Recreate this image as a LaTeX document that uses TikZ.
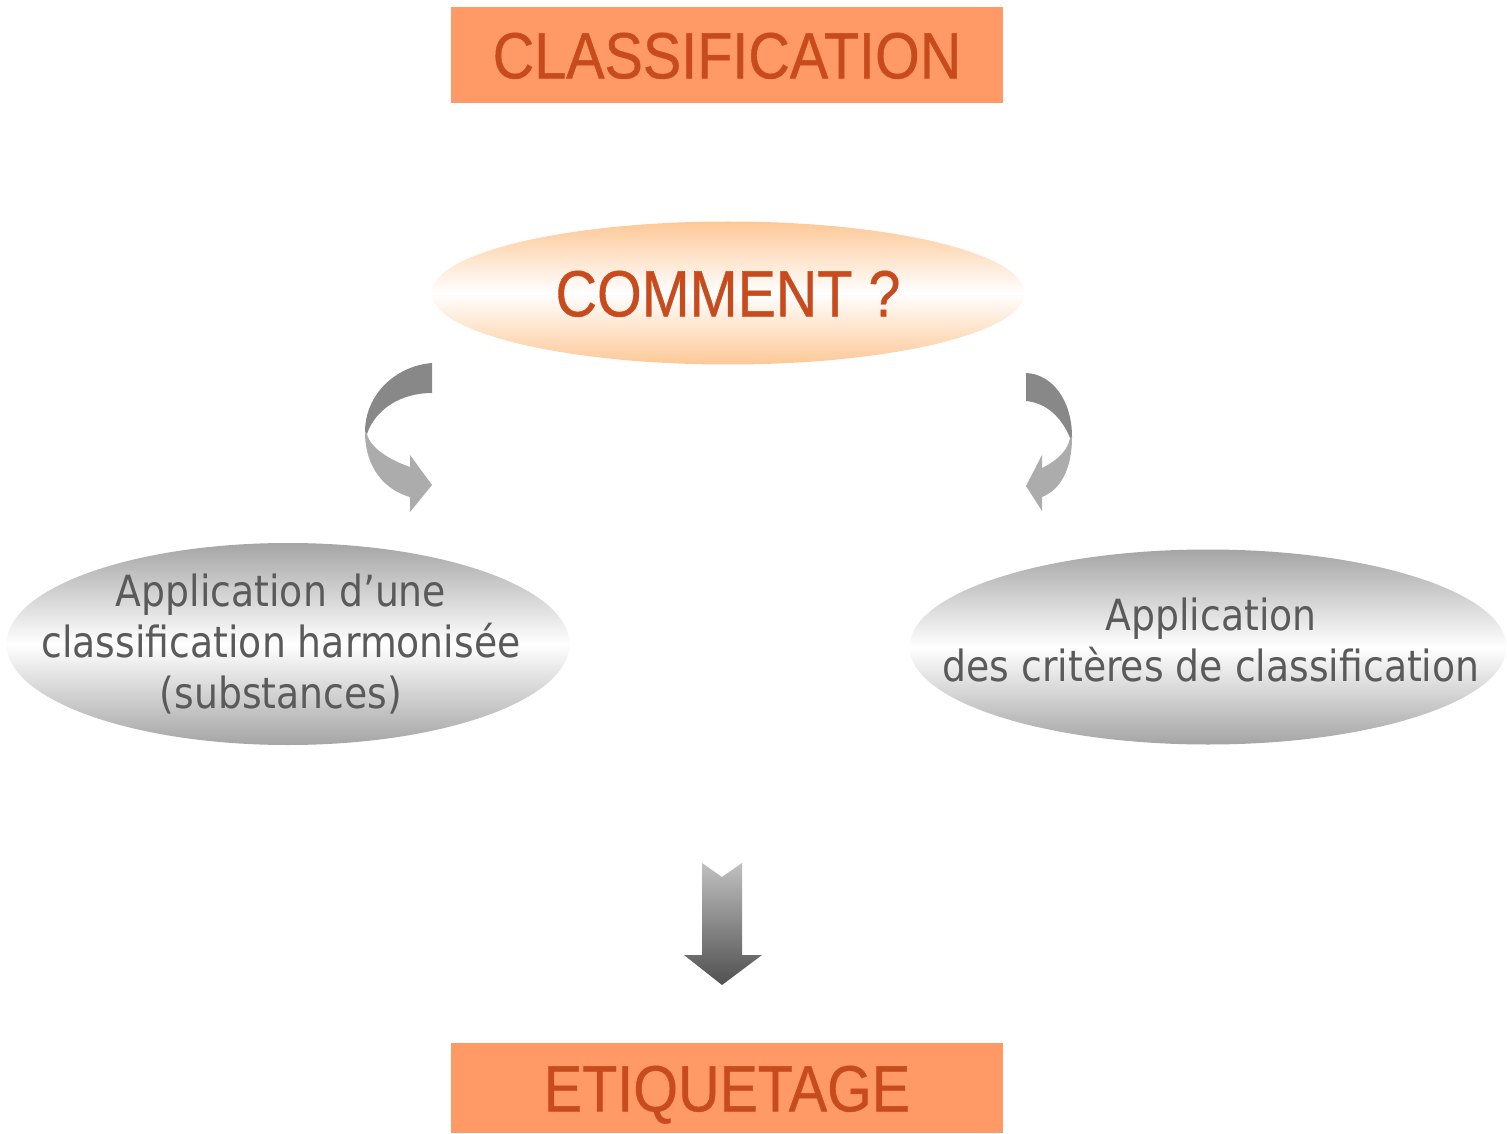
\documentclass[tikz,border=0pt]{standalone}
\usepackage{xcolor}
\usepackage{fontspec}
\usetikzlibrary{shapes.geometric}

\newfontfamily\narrowfont[FakeStretch=0.88,FakeBold=0.6]{Liberation Sans}
\newfontfamily\grayfont[FakeStretch=0.88]{DejaVu Sans}

\definecolor{boxorange}{RGB}{255,153,102}
\definecolor{titlered}{RGB}{200,75,30}
\definecolor{paleorange}{RGB}{253,200,150}
\definecolor{ovalgray}{RGB}{165,165,165}
\definecolor{textgray}{RGB}{90,90,90}
\definecolor{darkband}{RGB}{136,136,136}
\definecolor{lightband}{RGB}{172,172,172}

\begin{document}
\begin{tikzpicture}[x=0.75pt,y=0.75pt,yscale=-1,xscale=1,
  titletext/.style={text=titlered, font=\narrowfont\fontsize{49}{55}\selectfont, text height=35pt, text depth=0pt},
  titlebox/.style={rectangle, fill=boxorange, minimum width=414pt, minimum height=72pt, inner sep=0pt, titletext},
  grayoval/.style={ellipse, inner sep=0pt, top color=ovalgray, bottom color=ovalgray, middle color=white},
  graytext/.style={text=textgray, align=center, inner sep=0pt, font=\grayfont\fontsize{32.2}{38.5}\selectfont}]
\useasboundingbox (0,0) rectangle (1507,1134);

% Text Node
\node [titlebox] (classif) at (727,55) {CLASSIFICATION};
%Shape: Ellipse
\node [ellipse, inner sep=0pt, minimum width=444.75pt, minimum height=107.25pt,
  top color=paleorange, bottom color=paleorange, middle color=white, titletext] (comment) at (728,293) {COMMENT ?};

%Shape: Ellipse
\node [grayoval, minimum width=422.25pt, minimum height=151.5pt] (harmo) at (288,644) {};
% Text Node
\node [graytext] (harmotxt) at (281,644) {Application d’une\\classification harmonisée\\(substances)};
%Shape: Ellipse
\node [grayoval, minimum width=447.75pt, minimum height=146.25pt] (criteres) at (1208,647) {};
% Text Node
\node [graytext] (criterestxt) at (1211,640) {Application\\des critères de classification};

% Text Node
\node [titlebox, minimum height=67.5pt] (etiq) at (727,1088) {ETIQUETAGE};

%Curved Arrow (left)
\fill [darkband] (432,363) .. controls (395,366) and (365,395) .. (365,432)
  -- (367,434) .. controls (375,410) and (400,393) .. (432,393) -- cycle ;
\fill [lightband] (365,432) .. controls (365,468) and (385,490) .. (410,497)
  -- (410,512) -- (432,485) -- (410,455) -- (410,467)
  .. controls (390,460) and (370,448) .. (367,434) -- cycle ;
%Curved Arrow (right)
\fill [darkband] (1026,373) .. controls (1052,374) and (1072,400) .. (1072,437)
  -- (1070,438) .. controls (1062,418) and (1047,403) .. (1026,401) -- cycle ;
\fill [lightband] (1072,437) .. controls (1072,470) and (1060,490) .. (1042,497)
  -- (1042,511) -- (1026,486) -- (1042,455) -- (1042,468)
  .. controls (1058,460) and (1068,450) .. (1070,438) -- cycle ;

%Down Arrow
\shade [top color={rgb,255:red,192;green,192;blue,192}, bottom color={rgb,255:red,80;green,80;blue,80}]
  (702,863) -- (722,877) -- (742,863) -- (742,955) -- (762,955) -- (722,985) -- (684,955) -- (702,955) -- cycle ;
\end{tikzpicture}
\end{document}
